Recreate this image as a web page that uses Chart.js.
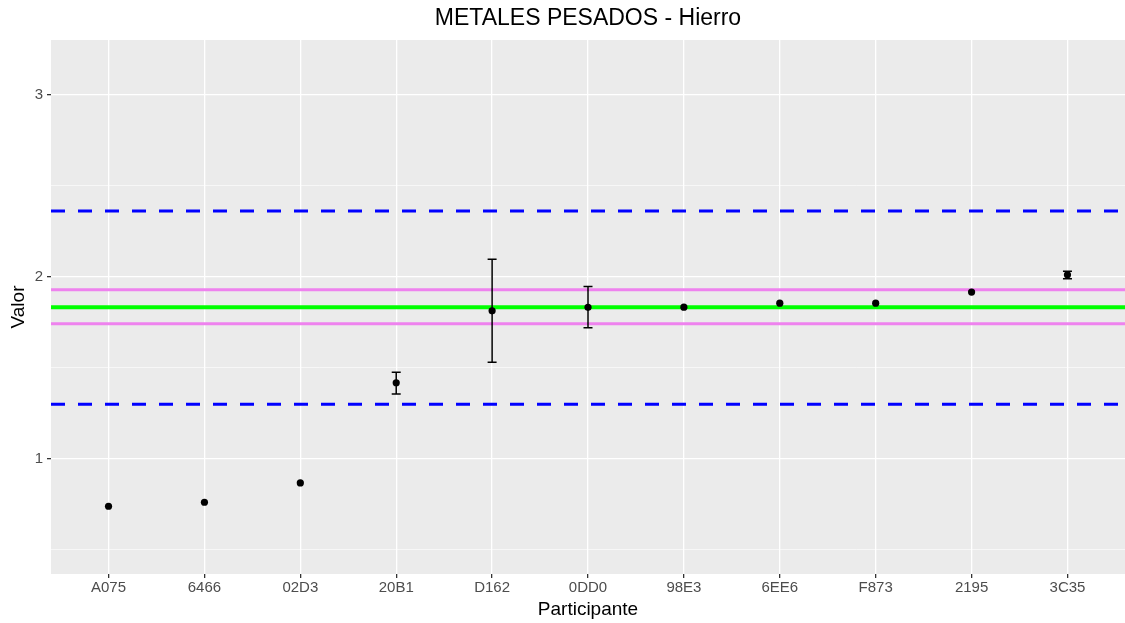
<!DOCTYPE html>
<html>
<head>
<meta charset="utf-8">
<script src="https://cdn.jsdelivr.net/npm/chart.js@4/dist/chart.umd.min.js"></script>
<style>
  html, body { margin: 0; padding: 0; background: #fff; }
  #wrap { width: 1125px; height: 623px; }
</style>
</head>
<body>
<div id="wrap"><canvas id="grafica" width="1125" height="623"></canvas></div>
<script>
// datos
var titulo = 'METALES PESADOS - Hierro';
var participantes = ["A075", "6466", "02D3", "20B1", "D162", "0DD0", "98E3", "6EE6", "F873", "2195", "3C35"];
var valores = [0.74, 0.762, 0.868, 1.418, 1.813, 1.832, 1.833, 1.855, 1.855, 1.916, 2.011];
var errInf = [null, null, null, 1.357, 1.530, 1.720, null, null, null, null, 1.989];
var errSup = [null, null, null, 1.476, 2.096, 1.947, null, null, null, null, 2.030];
var valorAsignado = 1.832;
var incertidumbre = [1.742, 1.929];
var limites = [1.30, 2.361];
var yTicks = [0.5, 1, 1.5, 2, 2.5, 3];

var fuente = 'Arial, "Liberation Sans", sans-serif';
var xMin = -0.6, xMax = participantes.length - 1 + 0.6;

function linea(y) {
    return [{x: xMin, y: y}, {x: xMax, y: y}];
}

var puntos = valores.map((v, i) => ({x: i, y: v}));

var fondo = {
    id: 'fondo',
    beforeDraw(chart) {
        var a = chart.chartArea, ctx = chart.ctx;
        ctx.save();
        ctx.fillStyle = '#ebebeb';
        ctx.fillRect(a.left, a.top, a.right - a.left, a.bottom - a.top);
        // titulo centrado sobre el panel
        ctx.fillStyle = '#000';
        ctx.font = '23px ' + fuente;
        ctx.textAlign = 'center';
        ctx.textBaseline = 'middle';
        ctx.fillText(titulo, (a.left + a.right) / 2, 19);
        ctx.restore();
    }
};

var barras = {
    id: 'barras',
    afterDatasetsDraw(chart) {
        var xs = chart.scales.x, ys = chart.scales.y, ctx = chart.ctx;
        ctx.save();
        ctx.strokeStyle = '#000';
        ctx.lineWidth = 1.5;
        errInf.forEach((lo, i) => {
            if (lo === null) return;
            var px = xs.getPixelForValue(i);
            var p1 = ys.getPixelForValue(lo), p2 = ys.getPixelForValue(errSup[i]);
            ctx.beginPath();
            ctx.moveTo(px, p1); ctx.lineTo(px, p2);
            ctx.moveTo(px - 4.5, p1); ctx.lineTo(px + 4.5, p1);
            ctx.moveTo(px - 4.5, p2); ctx.lineTo(px + 4.5, p2);
            ctx.stroke();
        });
        // puntos encima
        ctx.fillStyle = '#000';
        valores.forEach((v, i) => {
            ctx.beginPath();
            ctx.arc(xs.getPixelForValue(i), ys.getPixelForValue(v), 3.6, 0, Math.PI * 2);
            ctx.fill();
        });
        ctx.restore();
    }
};

var ctx = document.getElementById("grafica").getContext('2d');
var grafica = new Chart(ctx, {
    type: 'scatter',
    data: {
        datasets: [
            {data: linea(limites[0]), showLine: true, borderColor: '#0000ff', borderWidth: 3, borderDash: [14, 13], pointRadius: 0},
            {data: linea(limites[1]), showLine: true, borderColor: '#0000ff', borderWidth: 3, borderDash: [14, 13], pointRadius: 0},
            {data: linea(incertidumbre[0]), showLine: true, borderColor: '#ee82ee', borderWidth: 3, pointRadius: 0},
            {data: linea(incertidumbre[1]), showLine: true, borderColor: '#ee82ee', borderWidth: 3, pointRadius: 0},
            {data: linea(valorAsignado), showLine: true, borderColor: '#00ff00', borderWidth: 4, pointRadius: 0},
            {data: puntos, pointRadius: 0, backgroundColor: '#000'}
        ]
    },
    options: {
        responsive: false,
        animation: false,
        layout: {padding: {top: 40, right: 0, left: 0, bottom: 0}},
        plugins: {
            legend: {display: false},
            tooltip: {enabled: false},
            title: {display: false}
        },
        scales: {
            x: {
                type: 'linear',
                min: xMin,
                max: xMax,
                afterBuildTicks: s => { s.ticks = participantes.map((p, i) => ({value: i})); },
                afterFit: s => { s.height = 49; },
                border: {display: false},
                grid: {color: '#ffffff', lineWidth: 1.3, tickLength: 4, tickColor: '#333333'},
                ticks: {
                    callback: (v) => participantes[v],
                    color: '#4d4d4d',
                    font: {family: fuente, size: 15},
                    padding: 1,
                    maxRotation: 0,
                    autoSkip: false
                },
                title: {
                    display: true,
                    text: 'Participante',
                    color: '#000',
                    font: {family: fuente, size: 19},
                    padding: {top: 0, bottom: 2}
                }
            },
            y: {
                min: 0.368,
                max: 3.30,
                afterBuildTicks: s => { s.ticks = yTicks.map(v => ({value: v})); },
                afterFit: s => { s.width = 51; },
                border: {display: false},
                grid: {
                    color: '#ffffff',
                    lineWidth: c => (Number.isInteger(c.tick.value) ? 1.3 : 0.6),
                    tickLength: 4,
                    tickColor: c => (Number.isInteger(c.tick.value) ? '#333333' : 'rgba(0,0,0,0)')
                },
                ticks: {
                    callback: v => (Number.isInteger(v) ? String(v) : ''),
                    color: '#4d4d4d',
                    font: {family: fuente, size: 15},
                    padding: 4
                },
                title: {
                    display: true,
                    text: 'Valor',
                    color: '#000',
                    font: {family: fuente, size: 19},
                    padding: {top: 7, bottom: 0}
                }
            }
        }
    },
    plugins: [fondo, barras]
});
</script>
</body>
</html>
